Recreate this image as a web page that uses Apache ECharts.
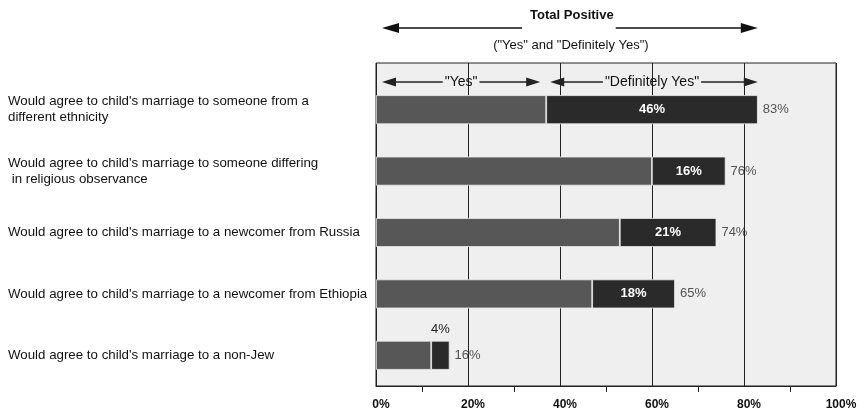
<!DOCTYPE html>
<html>
<head>
<meta charset="utf-8">
<script src="https://cdn.jsdelivr.net/npm/echarts@6/dist/echarts.min.js"></script>
<style>
html,body{margin:0;padding:0;background:#fff;}
#c{width:865px;height:412px;}
</style>
</head>
<body>
<div id="c"></div>
<script>
const categories = [
  "Would agree to child's marriage to someone from a\ndifferent ethnicity",
  "Would agree to child's marriage to someone differing\n in religious observance",
  "Would agree to child's marriage to a newcomer from Russia",
  "Would agree to child's marriage to a newcomer from Ethiopia",
  "Would agree to child's marriage to a non-Jew"
];
const yesValues = [37, 60, 53, 47, 12];
const definitelyYesValues = [46, 16, 21, 18, 4];
const totalValues = [83, 76, 74, 65, 16];
const tickLabels = ['0%', '20%', '40%', '60%', '80%', '100%'];
const titleText = 'Total Positive';
const subtitleText = '("Yes" and "Definitely Yes")';
const yesArrowRange = [0, 37];
const dyArrowRange = [37, 83];
const totalArrowRange = [0, 83];

const FONT = '"Liberation Sans", Arial, Helvetica, sans-serif';
const chart = echarts.init(document.getElementById('c'));

const option = {
  backgroundColor: '#ffffff',
  animation: false,
  textStyle: { fontFamily: FONT },
  grid: [
    { left: 376, top: 63, width: 460, height: 323, show: true, backgroundColor: '#efefef', borderColor: '#222', borderWidth: 1 },
    { left: 376, top: 79, width: 460, height: 307 }
  ],
  xAxis: [
    {
      gridIndex: 0, type: 'value', min: 0, max: 100, interval: 20,
      axisLine: { show: true, lineStyle: { color: '#222', width: 1 } },
      axisTick: { show: false },
      minorTick: { show: true, splitNumber: 2, length: 6, lineStyle: { color: '#222', width: 1 } },
      splitLine: { show: true, lineStyle: { color: '#222', width: 1 } },
      axisLabel: {
        formatter: (v) => tickLabels[Math.round(v / 20)],
        color: '#111', fontSize: 12, fontWeight: 'bold', fontFamily: FONT,
        margin: 13, padding: [0, 0, 0, 10]
      }
    },
    { gridIndex: 1, type: 'value', min: 0, max: 100, show: false }
  ],
  yAxis: [
    { gridIndex: 0, type: 'value', min: 0, max: 1, show: false, splitLine: { show: false } },
    {
      gridIndex: 1, type: 'category', inverse: true, data: categories,
      axisLine: { show: false }, axisTick: { show: false },
      axisLabel: { align: 'left', margin: 368, color: '#111', fontSize: 13.3, lineHeight: 16, fontFamily: FONT }
    }
  ],
  series: [
    {
      name: 'Yes', type: 'bar', stack: 'a', xAxisIndex: 1, yAxisIndex: 1,
      barWidth: 29, data: yesValues,
      itemStyle: { color: '#575757', borderColor: '#efefef', borderWidth: 0.8 },
      z: 3
    },
    {
      name: 'Definitely Yes', type: 'bar', stack: 'a', xAxisIndex: 1, yAxisIndex: 1,
      barWidth: 29,
      data: definitelyYesValues.map((v, i) => i === definitelyYesValues.length - 1
        ? { value: v, label: { position: 'top', color: '#222', fontWeight: 'normal', distance: 5 } }
        : v),
      itemStyle: { color: '#2a2a2a', borderColor: '#efefef', borderWidth: 0.8 },
      label: { show: true, position: 'inside', formatter: '{c}%', color: '#fff', fontWeight: 'bold', fontSize: 13, fontFamily: FONT },
      z: 3
    },
    {
      name: 'Total', type: 'scatter', xAxisIndex: 1, yAxisIndex: 1,
      symbolSize: 0,
      data: totalValues.map((v, i) => [v, i]),
      label: { show: true, position: 'right', distance: 5, formatter: (p) => p.value[0] + '%', color: '#2a2a2a', fontSize: 13, fontFamily: FONT },
      z: 4
    }
  ]
};
chart.setOption(option);

function measure(text, font) {
  const cv = document.createElement('canvas').getContext('2d');
  cv.font = font;
  return cv.measureText(text).width;
}
function px(v) { return chart.convertToPixel({ xAxisIndex: 0 }, v); }

function arrow(x1, x2, y, head, halfH, gapL, gapR, color) {
  const els = [];
  const lineStyle = { stroke: color, lineWidth: 1.5 };
  els.push({ type: 'line', shape: { x1: x1 + head - 1, y1: y, x2: gapL, y2: y }, style: lineStyle, z: 10 });
  els.push({ type: 'line', shape: { x1: gapR, y1: y, x2: x2 - head + 1, y2: y }, style: lineStyle, z: 10 });
  els.push({ type: 'polygon', shape: { points: [[x1, y], [x1 + head, y - halfH], [x1 + head, y + halfH]] }, style: { fill: color }, z: 10 });
  els.push({ type: 'polygon', shape: { points: [[x2, y], [x2 - head, y - halfH], [x2 - head, y + halfH]] }, style: { fill: color }, z: 10 });
  return els;
}

const g = [];
// Top "Total Positive" arrow
{
  const x1 = px(totalArrowRange[0]) + 6, x2 = px(totalArrowRange[1]);
  const cx = (px(totalArrowRange[0]) + px(totalArrowRange[1])) / 2 + 5;
  const tf = 'bold 13px ' + FONT;
  const tw = measure(titleText, tf);
  g.push(...arrow(x1, x2, 28, 17, 5, cx - tw / 2 - 8, cx + tw / 2 + 2, '#111'));
  g.push({ type: 'text', x: cx, y: 15, style: { text: titleText, font: tf, fill: '#111', align: 'center', verticalAlign: 'middle' }, z: 11 });
  g.push({ type: 'text', x: cx - 1, y: 45, style: { text: subtitleText, font: '13px ' + FONT, fill: '#111', align: 'center', verticalAlign: 'middle' }, z: 11 });
}
// Header arrows inside frame
{
  const y = 82;
  const hf = '14px ' + FONT;
  const items = [
    { r: yesArrowRange, t: '"Yes"', insL: 6, insR: 6 },
    { r: dyArrowRange, t: '"Definitely Yes"', insL: 4, insR: 0 }
  ];
  items.forEach((it) => {
    const a = px(it.r[0]), b = px(it.r[1]);
    const x1 = a + it.insL, x2 = b - it.insR;
    const cx = (a + b) / 2;
    const tw = measure(it.t, hf);
    g.push(...arrow(x1, x2, y, 14, 4.5, cx - tw / 2 - 2, cx + tw / 2 + 2, '#222'));
    g.push({ type: 'text', x: cx, y: y, style: { text: it.t, font: hf, fill: '#111', align: 'center', verticalAlign: 'middle' }, z: 11 });
  });
}
chart.setOption({ graphic: g });
</script>
</body>
</html>
